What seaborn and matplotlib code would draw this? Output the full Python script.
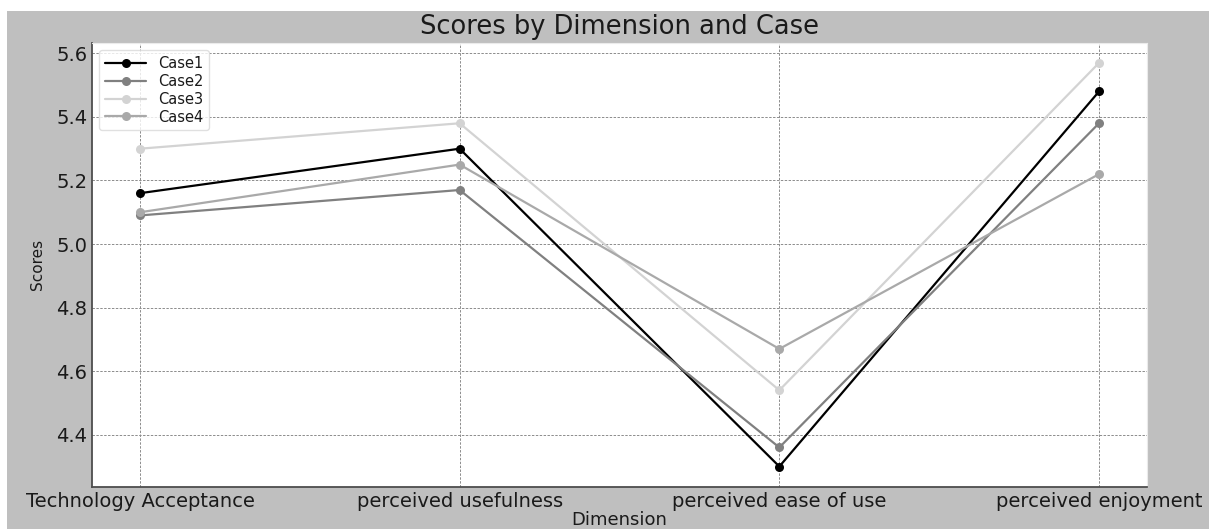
import matplotlib
matplotlib.use("Agg")
import matplotlib.pyplot as plt
from matplotlib.patches import Rectangle
import pandas as pd
import seaborn as sns

# --- Data ---
dimensions = ["Technology Acceptance", "perceived usefulness",
              "perceived ease of use", "perceived enjoyment"]
case1 = [5.16, 5.30, 4.30, 5.48]
case2 = [5.09, 5.17, 4.36, 5.38]
case3 = [5.30, 5.38, 4.54, 5.57]
case4 = [5.10, 5.25, 4.67, 5.22]
case_names = ["Case1", "Case2", "Case3", "Case4"]
case_colors = ["black", "grey", "lightgrey", "darkgrey"]

# long-form table for seaborn
rows = []
for name, vals in zip(case_names, [case1, case2, case3, case4]):
    for dim, v in zip(dimensions, vals):
        rows.append({"Dimension": dim, "Scores": v, "Case": name})
df = pd.DataFrame(rows)

# --- Plot ---
sns.set_style("white")
plt.rcParams["font.family"] = ["DejaVu Sans"]
plt.rcParams["text.color"] = "#1a1a1a"

fig, ax = plt.subplots(figsize=(12.09, 5.29), dpi=100)
fig.patch.set_facecolor("white")
# grey page with a thin white strip on the top and left edges
fig.add_artist(Rectangle((7 / 1209, 0), 1, 1 - 11 / 529, transform=fig.transFigure,
                         facecolor="#bfbfbf", edgecolor="none", zorder=-10))
ax.set_facecolor("white")

sns.lineplot(data=df, x="Dimension", y="Scores", hue="Case",
             palette=dict(zip(case_names, case_colors)), marker="o",
             markersize=6.5, markeredgewidth=0, linewidth=1.6, sort=False, ax=ax)

ax.grid(True, linestyle=(0, (2.5, 1.5)), color="0.55", linewidth=0.7)
ax.set_title("Scores by Dimension and Case", fontsize=18.5, color="#1a1a1a", pad=6)
ax.set_xlabel("Dimension", fontsize=13, labelpad=0, color="#1a1a1a")
ax.set_ylabel("Scores", fontsize=11, labelpad=8, color="#1a1a1a")
ax.tick_params(axis="both", labelsize=14, length=4, direction="in",
               color="0.25", labelcolor="#1a1a1a")
for side in ["left", "bottom"]:
    ax.spines[side].set_color("0.3")
    ax.spines[side].set_linewidth(1.3)
for side in ["top", "right"]:
    ax.spines[side].set_color("0.92")

leg = ax.legend(loc="upper left", fontsize=10.5, frameon=True, labelspacing=0.2,
                handlelength=2.8, borderaxespad=0.5)
leg.get_frame().set_edgecolor("0.85")
for t in leg.get_texts():
    t.set_color("#1a1a1a")

fig.subplots_adjust(left=0.0761, right=0.9487, top=1 - 42.7 / 529, bottom=1 - 486.7 / 529)
fig.savefig("out.png", facecolor=fig.get_facecolor())
